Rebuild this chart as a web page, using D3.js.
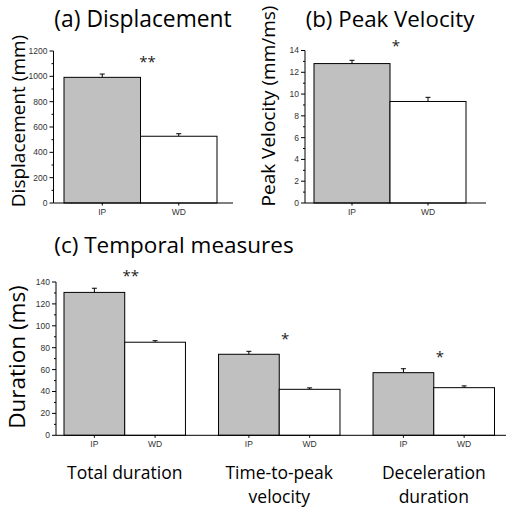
<!DOCTYPE html>
<html><head><meta charset="utf-8">
<script src="https://cdn.jsdelivr.net/npm/d3@7"></script>
<style>body{margin:0;background:#fff}svg{display:block}</style>
</head><body><svg id="c" width="506" height="507"></svg>
<script>
// ---- data ----
const groups = ["IP", "WD"];
const dispMean = [992, 527];
const dispErr = [26, 20];
const dispSig = "**";
const dispSigY = 1130;

const velMean = [12.8, 9.32];
const velErr = [0.3, 0.38];
const velSig = "*";
const velSigY = 14.6;

const tempCategories = ["Total duration", "Time-to-peak\nvelocity", "Deceleration\nduration"];
const tempIP = [130.5, 74, 57.2];
const tempIPErr = [3.8, 2.7, 3.6];
const tempWD = [85, 42, 43.5];
const tempWDErr = [1.4, 1.3, 1.6];
const tempSig = ["**", "*", "*"];
const tempSigY = [148, 90, 74];

const titles = ["(a) Displacement", "(b) Peak Velocity", "(c) Temporal measures"];
const yLabels = ["Displacement (mm)", "Peak Velocity (mm/ms)", "Duration (ms)"];

// ---- drawing ----
const svg = d3.select("#c");
const fills = {IP: "#c0c0c0", WD: "#ffffff"};
const bigFont = "'Open Sans', 'Noto Sans', sans-serif";
const smallFont = "'Liberation Sans', Arial, sans-serif";

function yAxis(g, y, x0, major, minor, max) {
  const ax = g.append("g").attr("transform", `translate(${x0},0)`);
  ax.append("line").attr("x1", 0).attr("x2", 0).attr("y1", y(0)).attr("y2", y(max)).attr("stroke", "#000");
  const majors = d3.range(0, max + 1e-9, major);
  const minors = d3.range(0, max + 1e-9, minor).filter(v => !majors.some(m => Math.abs(m - v) < 1e-9));
  ax.selectAll(".mj").data(majors).join("line").attr("x1", -4).attr("x2", 0)
    .attr("y1", d => y(d)).attr("y2", d => y(d)).attr("stroke", "#000");
  ax.selectAll(".mn").data(minors).join("line").attr("x1", -2).attr("x2", 0)
    .attr("y1", d => y(d)).attr("y2", d => y(d)).attr("stroke", "#000");
  ax.selectAll("text").data(majors).join("text").attr("x", -6).attr("y", d => y(d))
    .attr("dy", "0.35em").attr("text-anchor", "end").attr("font-family", smallFont)
    .attr("font-size", 8.5).attr("fill", "#333").text(d => d);
}

function bars(g, x, y, means, errs) {
  const data = groups.map((k, i) => ({k, v: means[i], e: errs[i]}));
  g.selectAll(".err").data(data).join("g").each(function(d) {
    const cx = x(d.k) + x.bandwidth() / 2;
    const s = d3.select(this);
    s.append("line").attr("x1", cx).attr("x2", cx).attr("y1", y(d.v)).attr("y2", y(d.v + d.e)).attr("stroke", "#000");
    s.append("line").attr("x1", cx - 2.5).attr("x2", cx + 2.5).attr("y1", y(d.v + d.e)).attr("y2", y(d.v + d.e)).attr("stroke", "#000");
  });
  g.selectAll(".bar").data(data).join("rect")
    .attr("x", d => x(d.k)).attr("y", d => y(d.v))
    .attr("width", x.bandwidth()).attr("height", d => y(0) - y(d.v))
    .attr("fill", d => fills[d.k]).attr("stroke", "#000").attr("stroke-width", 1);
  data.forEach(d => {
    const cx = x(d.k) + x.bandwidth() / 2;
    g.append("line").attr("x1", cx).attr("x2", cx).attr("y1", y(0)).attr("y2", y(0) + 2.5).attr("stroke", "#000");
    g.append("text").attr("x", cx).attr("y", y(0) + 12).attr("text-anchor", "middle")
      .attr("font-family", smallFont).attr("font-size", 8.5).attr("fill", "#333").text(d.k);
  });
}

function star(g, x, y, txt) {
  g.append("text").attr("x", x).attr("y", y).attr("dy", "0.5em").attr("text-anchor", "middle")
    .attr("font-family", bigFont).attr("font-size", 15).attr("fill", "#222").text(txt);
}

function yTitle(g, cx, cy, txt, fs) {
  g.append("text").attr("transform", `translate(${cx},${cy}) rotate(-90)`)
    .attr("text-anchor", "middle").attr("dy", "0.35em").attr("font-family", bigFont)
    .attr("font-size", fs).attr("fill", "#000").text(txt);
}

function title(g, cx, y, txt, fs) {
  g.append("text").attr("x", cx).attr("y", y).attr("text-anchor", "middle")
    .attr("font-family", bigFont).attr("font-size", fs).attr("fill", "#000").text(txt);
}

// Panel (a)
{
  const g = svg.append("g");
  const y = d3.scaleLinear().domain([0, 1200]).range([203, 51]);
  const x = d3.scaleBand().domain(groups).range([64, 217]).paddingInner(0);
  bars(g, x, y, dispMean, dispErr);
  g.append("line").attr("x1", 53.5).attr("x2", 233).attr("y1", y(0)).attr("y2", y(0)).attr("stroke", "#000");
  yAxis(g, y, 53.5, 200, 100, 1200);
  star(g, x("WD") + 7, y(dispSigY), dispSig);
  title(g, 143, 27, titles[0], 22.8);
  yTitle(g, 18, 121, yLabels[0], 19);
}
// Panel (b)
{
  const g = svg.append("g");
  const y = d3.scaleLinear().domain([0, 14]).range([203, 50.5]);
  const x = d3.scaleBand().domain(groups).range([314, 466]).paddingInner(0);
  bars(g, x, y, velMean, velErr);
  g.append("line").attr("x1", 305).attr("x2", 486).attr("y1", y(0)).attr("y2", y(0)).attr("stroke", "#000");
  yAxis(g, y, 305, 2, 1, 14);
  star(g, x("WD") + 6, y(velSigY), velSig);
  title(g, 390, 27, titles[1], 22.3);
  yTitle(g, 268, 106, yLabels[1], 19);
}
// Panel (c)
{
  const g = svg.append("g");
  const y = d3.scaleLinear().domain([0, 140]).range([435.3, 282]);
  const gx = d3.scaleBand().domain(tempCategories).range([64, 494.5]).paddingInner(0.214).paddingOuter(0);
  tempCategories.forEach((cat, i) => {
    const x = d3.scaleBand().domain(groups).range([gx(cat), gx(cat) + gx.bandwidth()]).paddingInner(0);
    const gg = g.append("g");
    bars(gg, x, y, [tempIP[i], tempWD[i]], [tempIPErr[i], tempWDErr[i]]);
    star(g, x("WD") + 6, y(tempSigY[i]), tempSig[i]);
    const lines = cat.split("\n");
    const cx = gx(cat) + gx.bandwidth() / 2;
    lines.forEach((ln, j) => {
      g.append("text").attr("x", cx).attr("y", 479 + j * 24).attr("text-anchor", "middle")
        .attr("font-family", bigFont).attr("font-size", 17.5).attr("fill", "#000").text(ln);
    });
  });
  g.append("line").attr("x1", 56).attr("x2", 506).attr("y1", y(0)).attr("y2", y(0)).attr("stroke", "#000");
  yAxis(g, y, 56, 20, 10, 140);
  title(g, 174, 253, titles[2], 22.5);
  yTitle(g, 17, 357, yLabels[2], 22.5);
}
</script></body></html>
